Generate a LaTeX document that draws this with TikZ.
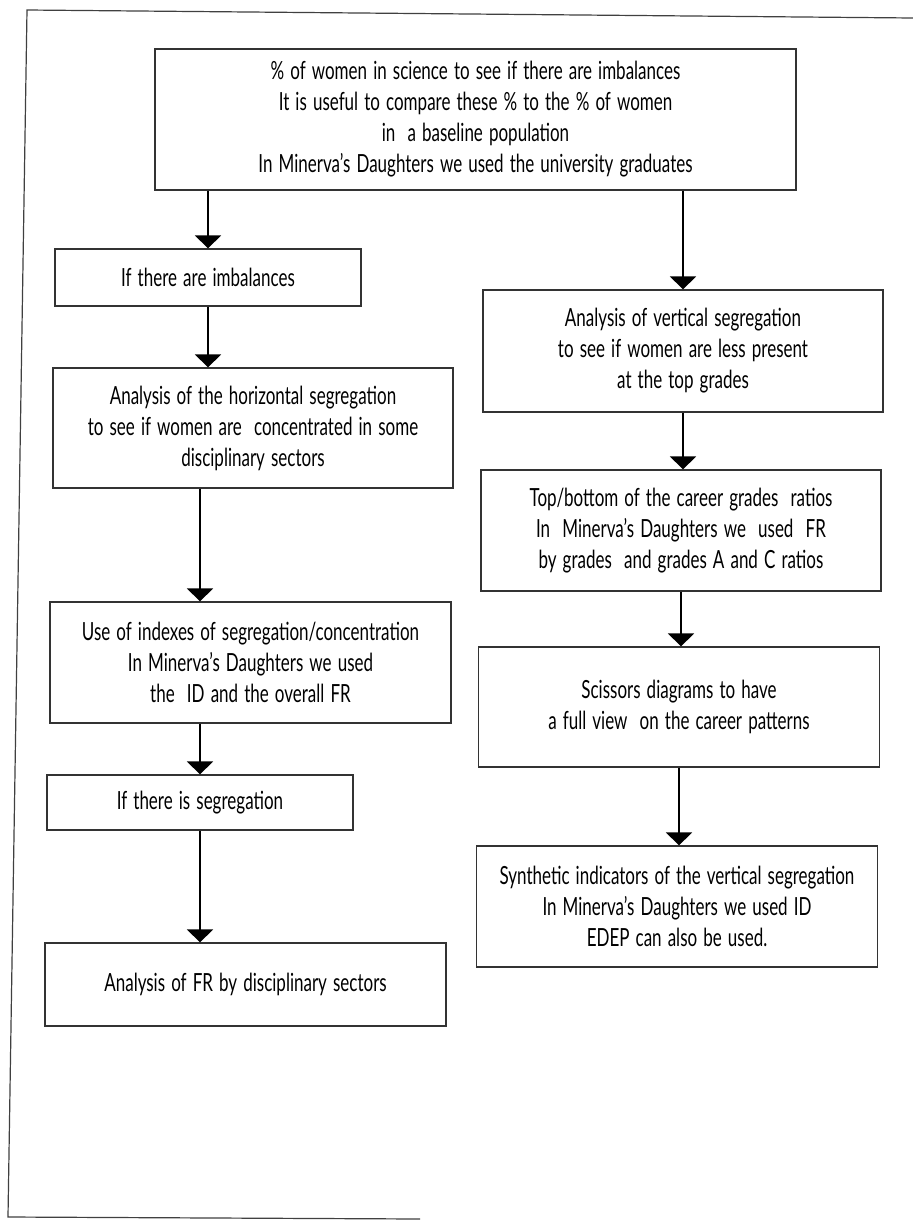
\documentclass[tikz,border=0pt]{standalone}
\usepackage{fontspec}
\setmainfont{Lato}[FakeStretch=0.68,WordSpace=1.4]
\usetikzlibrary{arrows.meta}
\tikzset{
  box/.style={draw=black!80, line width=0.6pt, align=center, inner sep=0pt,
    font=\fontsize{12.5pt}{15.5pt}\selectfont},
  flow/.style={line width=0.9pt, -{Triangle[width=13pt,length=6.5pt]}},
  frame/.style={draw=black!75, line width=0.6pt}
}
\begin{document}
\begin{tikzpicture}[x=0.5pt,y=-0.5pt]
\fill[white] (0,0) rectangle (913,1221);
\useasboundingbox (0,0) rectangle (913,1221);
% outer frame
\coordinate (ftl) at (27,10);
\coordinate (ftr) at (913,18);
\coordinate (fbl) at (8,1217);
\coordinate (fbr) at (420,1219);
\draw[frame] (ftr) -- (ftl) -- (fbl) -- (fbr);
% nodes
\node[box, minimum width=320.5pt, minimum height=70.5pt] (top) at (475.5,119.5)
 {\% of women in science to see if there are imbalances\\
  It is useful to compare these \% to the \% of women\\
  in\ \ a baseline population\\
  In Minerva's Daughters we used the university graduates};
\node[box, minimum width=153pt, minimum height=28.5pt] (imb) at (208,277.5)
 {If there are imbalances};
\node[box, minimum width=200pt, minimum height=60pt] (hor) at (253,428)
 {Analysis of the horizontal segregation\\
  to see if women are\ \ concentrated in some\\
  disciplinary sectors};
\node[box, minimum width=200.5pt, minimum height=60.5pt] (idx) at (250.5,662.5)
 {Use of indexes of segregation/concentration\\
  In Minerva's Daughters we used\\
  the\ \ ID and the overall FR};
\node[box, minimum width=153pt, minimum height=27.5pt] (seg) at (200,802.5)
 {If there is segregation};
\node[box, minimum width=200.5pt, minimum height=41.5pt] (fr) at (245.5,984.5)
 {Analysis of FR by disciplinary sectors};
\node[box, minimum width=200pt, minimum height=61pt] (vert) at (683,351)
 {Analysis of vertical segregation\\
  to see if women are less present\\
  at the top grades};
\node[box, minimum width=200pt, minimum height=60.5pt] (tb) at (681,530.5)
 {Top/bottom of the career grades\ \ ratios\\
  In\ \ Minerva's Daughters we\ \ used\ \ FR\\
  by grades\ \ and grades A and C ratios};
\node[box, minimum width=200.5pt, minimum height=60pt] (sci) at (679,707)
 {Scissors diagrams to have\\
  a full view\ \ on the career patterns};
\node[box, minimum width=200.5pt, minimum height=60.5pt] (syn) at (677,906.5)
 {Synthetic indicators of the vertical segregation\\
  In Minerva's Daughters we used ID\\
  EDEP can also be used.};
% connectors
\draw[flow] (top.south -| imb.north) -- (imb.north);
\draw[flow] (top.south -| vert.north) -- (vert.north);
\draw[flow] (imb.south) -- (imb.south |- hor.north);
\draw[flow] (hor.south -| seg.north) -- (idx.north -| seg.north);
\draw[flow] (idx.south -| seg.north) -- (seg.north);
\draw[flow] (seg.south) -- (seg.south |- fr.north);
\draw[flow] (vert.south) -- (vert.south |- tb.north);
\draw[flow] (tb.south) -- (tb.south |- sci.north);
\draw[flow] (sci.south) -- (sci.south |- syn.north);
\end{tikzpicture}
\end{document}
